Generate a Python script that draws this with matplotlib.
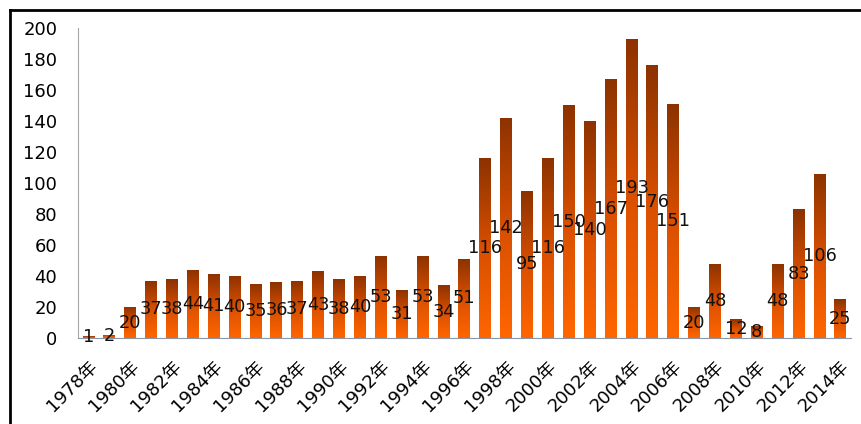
import numpy as np
import matplotlib.pyplot as plt
from matplotlib.colors import LinearSegmentedColormap
from matplotlib.lines import Line2D

plt.rcParams['font.family'] = ['DejaVu Sans', 'Noto Sans CJK SC']

years = list(range(1978, 2015))
counts = [1, 2, 20, 37, 38, 44, 41, 40, 35, 36, 37, 43, 38, 40, 53, 31, 53, 34, 51,
          116, 142, 95, 116, 150, 140, 167, 193, 176, 151, 20, 48, 12, 8, 48, 83, 106, 25]
tick_labels = [f"{y}年" for y in years]

fig = plt.figure(figsize=(8.62, 4.24), dpi=100)
ax = fig.add_axes([0.0905, 0.2028, 0.8965, 0.7312])

cmap = LinearSegmentedColormap.from_list("bar", ["#ff6600", "#d84f00", "#8c3200"])
grad = np.linspace(0, 1, 256).reshape(-1, 1)
w = 0.57
x = np.arange(len(years))

bars = ax.bar(x, counts, width=w, color="none", edgecolor="none")
for b, v in zip(bars, counts):
    x0 = b.get_x()
    im = ax.imshow(grad, cmap=cmap, origin="lower", aspect="auto",
                   extent=(x0, x0 + w, 0, v), zorder=2)
    im.set_clip_path(b)
    ax.text(b.get_x() + w / 2, v / 2, str(v), ha="center", va="center",
            fontsize=12.8, color="#111111", zorder=3)

ax.set_xlim(-0.5, len(years) - 0.5)
ax.set_ylim(0, 200)
ax.set_yticks(range(0, 201, 20))
ax.tick_params(axis="y", length=0, pad=15, labelsize=13)
ax.set_xticks(x[::2])
ax.set_xticklabels(tick_labels[::2], rotation=45, ha="right",
                   rotation_mode="anchor", fontsize=13)
ax.tick_params(axis="x", length=0, pad=14)

for s in ["top", "right"]:
    ax.spines[s].set_visible(False)
ax.spines["left"].set_color("#a6a6a6")
ax.spines["bottom"].set_color("#8a96a8")

# outer frame (left and top edges)
fig.add_artist(Line2D([10 / 862, 10 / 862], [0, 1 - 10 / 424], color="black", lw=2))
fig.add_artist(Line2D([10 / 862, 1], [1 - 10 / 424, 1 - 10 / 424], color="black", lw=2))

fig.savefig("out.png", dpi=100)
